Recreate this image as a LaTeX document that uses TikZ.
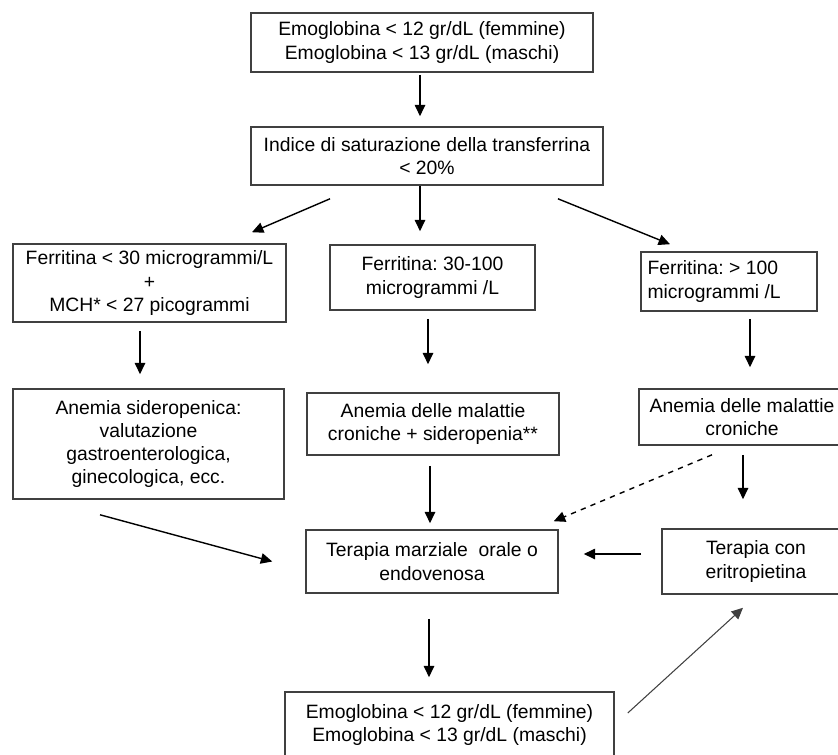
\documentclass[tikz,border=0pt]{standalone}
\usepackage{fontspec}
\setmainfont{Liberation Sans}
\usepackage{tikz}
\usetikzlibrary{arrows.meta}

\tikzset{
    box/.style={draw=black!75, line width=0.9pt, rectangle, align=center, inner sep=0pt},
    arr/.style={-{Triangle[length=6.5pt,width=6pt]}, line width=0.8pt},
}

\begin{document}
\frenchspacing
\begin{tikzpicture}[x=0.02cm, y=-0.02cm, every node/.style={font=\fontsize{11}{13.2}\selectfont}]
    \useasboundingbox (0,0) rectangle (838,754);
    \clip (0,0) rectangle (838,754);

    % Soglie di emoglobina
    \node[box, minimum width=6.84cm, minimum height=1.18cm] (hbtop) at (422,42.5)
        {Emoglobina < 12 gr/dL (femmine)\\Emoglobina < 13 gr/dL (maschi)};
    \node[box, minimum width=7.04cm, minimum height=1.16cm] (tsat) at (427,156)
        {Indice di saturazione della transferrina\\< 20\%};

    % Ferritina
    \node[box, minimum width=5.46cm, minimum height=1.56cm] (ferlow) at (149.5,283)
        {Ferritina < 30 microgrammi/L\\+\\MCH* < 27 picogrammi};
    \node[box, minimum width=4.1cm, minimum height=1.3cm] (fermid) at (432.5,277.5)
        {Ferritina: 30-100\\microgrammi /L};
    \node[box, minimum width=3.52cm, minimum height=1.18cm, align=flush left, text width=3.26cm] (ferhigh) at (729,281.5)
        {Ferritina: > 100\\microgrammi /L};

    % Diagnosi
    \node[box, minimum width=5.42cm, minimum height=2.2cm] (sidero) at (148.5,444)
        {Anemia sideropenica:\\valutazione\\gastroenterologica,\\ginecologica, ecc.};
    \node[box, minimum width=5.04cm, minimum height=1.24cm] (cronsid) at (433,424)
        {Anemia delle malattie\\croniche + sideropenia**};
    \node[box, minimum width=4.12cm, minimum height=1.12cm] (cron) at (742,417)
        {Anemia delle malattie\\croniche};

    % Terapie
    \node[box, minimum width=5.04cm, minimum height=1.26cm] (marz) at (432,561.5)
        {Terapia marziale\ \ orale o\\endovenosa};
    \node[box, minimum width=3.76cm, minimum height=1.3cm] (epo) at (756,561.5)
        {Terapia con\\eritropietina};
    \node[box, minimum width=6.58cm, minimum height=1.32cm] (hbbot) at (449.5,725)
        {Emoglobina < 12 gr/dL (femmine)\\Emoglobina < 13 gr/dL (maschi)};

    % Frecce
    \draw[arr, shorten <=0.04cm, shorten >=0.2cm] ([xshift=-0.04cm]hbtop.south) -- ([xshift=-0.04cm]hbtop.south |- tsat.north);
    \draw[arr] ([xshift=-1.94cm,yshift=-0.26cm]tsat.south) -- ([xshift=2.05cm,yshift=0.22cm]ferlow.north);
    \draw[arr, shorten >=0.26cm] ([xshift=-0.14cm]tsat.south) -- ([xshift=-0.14cm]tsat.south |- fermid.north);
    \draw[arr] ([xshift=2.62cm,yshift=-0.26cm]tsat.south) -- ([xshift=-1.18cm,yshift=0.14cm]ferhigh.north);

    \draw[arr, shorten <=0.16cm, shorten >=0.28cm] ([xshift=-0.19cm]ferlow.south) -- ([xshift=-0.19cm]ferlow.south |- sidero.north);
    \draw[arr, shorten <=0.16cm, shorten >=0.56cm] ([xshift=-0.09cm]fermid.south) -- ([xshift=-0.09cm]fermid.south |- cronsid.north);
    \draw[arr, shorten <=0.14cm, shorten >=0.42cm] ([xshift=0.42cm]ferhigh.south) -- ([xshift=0.42cm]ferhigh.south |- cron.north);

    \draw[arr] ([xshift=-0.97cm,yshift=-0.3cm]sidero.south) -- ([xshift=-0.66cm]marz.west);
    \draw[arr, shorten <=0.2cm, shorten >=0.12cm] ([xshift=-0.06cm]cronsid.south) -- ([xshift=-0.06cm]cronsid.south |- marz.north);
    \draw[arr, dashed] ([xshift=-0.6cm,yshift=-0.18cm]cron.south) -- ([xshift=-0.1cm,yshift=0.16cm]marz.north east);
    \draw[arr, shorten <=0.18cm, shorten >=0.58cm] ([xshift=0.02cm]cron.south) -- ([xshift=0.02cm]cron.south |- epo.north);

    \draw[arr] ([xshift=-0.4cm,yshift=0.15cm]epo.west) -- ([xshift=0.5cm,yshift=0.15cm]marz.east);
    \draw[arr, shorten <=0.5cm, shorten >=0.28cm] ([xshift=-0.06cm]marz.south) -- ([xshift=-0.06cm]marz.south |- hbbot.north);
    \draw[arr, line width=0.6pt, black!75] ([xshift=0.26cm,yshift=0.24cm]hbbot.east) -- ([xshift=-0.26cm,yshift=-0.26cm]epo.south);
\end{tikzpicture}
\end{document}
